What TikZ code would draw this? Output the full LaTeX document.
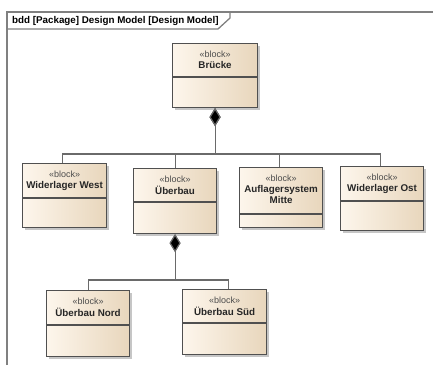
\documentclass[tikz,border=0pt]{standalone}
\usepackage{fontspec}
\setmainfont{Liberation Sans}
\usetikzlibrary{arrows.meta,shadows}

\definecolor{blockL}{HTML}{FDF6EC}
\definecolor{blockR}{HTML}{E8D6BC}
\definecolor{edge}{HTML}{505050}
\definecolor{wire}{HTML}{6A6A6A}
\definecolor{framec}{HTML}{808080}

\tikzset{
  block/.style={draw=edge, line width=1.1pt, left color=blockL, right color=blockR,
    rectangle, inner sep=0pt,
    drop shadow={shadow xshift=2pt, shadow yshift=-2pt, fill=black!28, opacity=0.8}},
  divline/.style={draw=edge, line width=1.1pt},
  stereo/.style={font=\fontsize{9}{10}\selectfont, text=black!70, inner sep=0pt},
  bname/.style={font=\fontsize{9.8}{11.5}\selectfont\bfseries, text=black!85, inner sep=0pt, align=center},
  comp/.style={draw=wire, line width=1.1pt, {Diamond[length=18pt,width=11pt,fill=black]}-},
  framel/.style={draw=framec, line width=1.3pt},
}

% one SysML block: id, left, top, right, bottom, divider, title
\newcommand{\sysblock}[7]{%
  \node[block, minimum width=#4pt-#2pt, minimum height=#5pt-#3pt, anchor=north west] (#1) at (#2,#3) {};
  \draw[divline] (#1.west |- 0,#6) -- (#1.east |- 0,#6);
  \node[stereo] (#1-st) at ([yshift=-11pt]#1.north) {«block»};
  \node[bname, anchor=north] (#1-nm) at ([yshift=-18pt]#1.north) {#7};
}

\begin{document}
\begin{tikzpicture}[x=1pt, y=-1pt]
  \useasboundingbox (0,0) rectangle (433,365);

  % diagram frame with its name tab
  \draw[framel] (7,365) -- (7,12) -- (433,12);
  \draw[framel] (7,29) -- (218,29) -- (230,18) -- (230,12);
  \node[font=\fontsize{9.8}{11}\selectfont\bfseries, anchor=west, inner sep=0pt] (frametitle)
    at (12,21) {bdd [Package] Design Model [Design Model]};

  % blocks
  \sysblock{bru}{172}{43}{257}{107}{77}{Brücke}
  \sysblock{wwest}{22}{163}{106}{227}{198}{Widerlager West}
  \sysblock{ueb}{133}{168}{216}{233}{202}{Überbau}
  \sysblock{auf}{239}{167}{322}{227}{214}{Auflagersystem\\Mitte}
  \sysblock{wost}{340}{166}{423}{230}{201}{Widerlager Ost}
  \sysblock{nord}{46}{290}{129}{356}{325}{Überbau Nord}
  \sysblock{sued}{182}{289}{266}{354}{323}{Überbau Süd}

  % composition links
  \foreach \c/\dx in {wwest/-2, ueb/0, auf/-2, wost/-2}
    \draw[comp] (bru.south) -- (bru.south |- 0,154) -| ([xshift=\dx pt]\c.north);
  \foreach \c/\dx in {nord/0, sued/4}
    \draw[comp] (ueb.south) -- (ueb.south |- 0,280) -| ([xshift=\dx pt]\c.north);
\end{tikzpicture}
\end{document}
